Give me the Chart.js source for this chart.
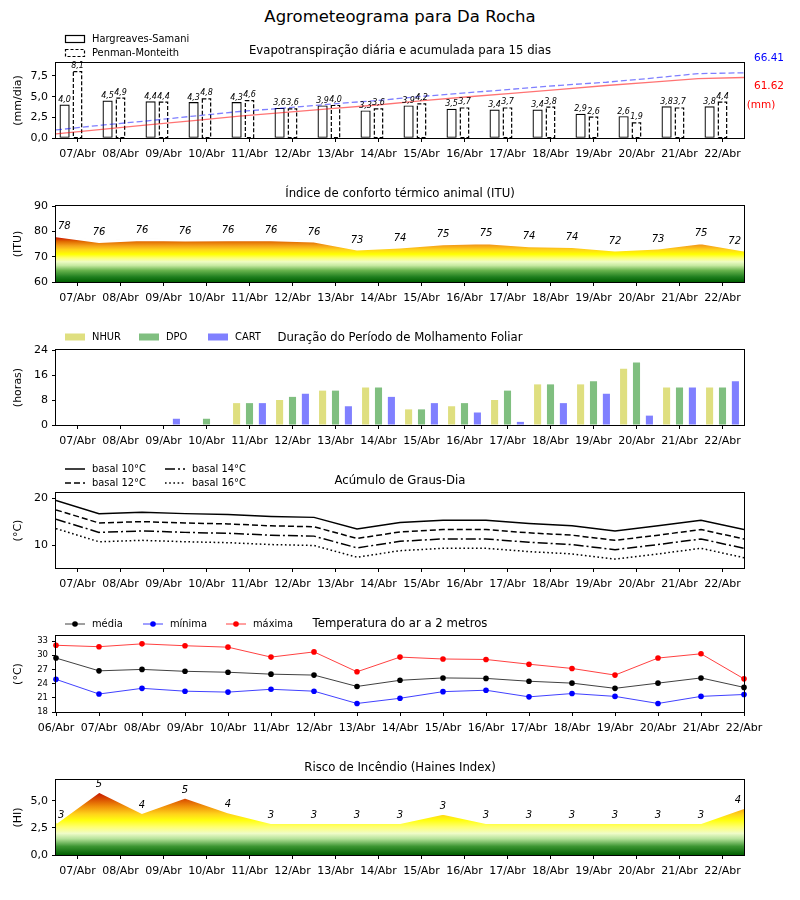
<!DOCTYPE html>
<html lang="pt">
<head>
<meta charset="utf-8">
<title>Agrometeograma</title>
<script src="https://cdn.jsdelivr.net/npm/chart.js@4.4.1/dist/chart.umd.min.js"></script>
<style>
  body { margin: 0; background: #fff; }
  #fig { position: relative; width: 800px; height: 900px; font-family: "DejaVu Sans", sans-serif; }
  #fig canvas { position: absolute; left: 0; }
  #titulo { position: absolute; left: 0; top: 8px; width: 800px; text-align: center; font-size: 16.5px; line-height: 18px; }
</style>
</head>
<body>
<div id="fig">
  <div id="titulo">Agrometeograma para Da Rocha</div>
  <canvas id="cEvapo"></canvas>
  <canvas id="cItu"></canvas>
  <canvas id="cMolh"></canvas>
  <canvas id="cGraus"></canvas>
  <canvas id="cTemp"></canvas>
  <canvas id="cHaines"></canvas>
</div>
<script>
'use strict';

// ---- dados ----
var dias = ['07/Abr', '08/Abr', '09/Abr', '10/Abr', '11/Abr', '12/Abr', '13/Abr', '14/Abr',
            '15/Abr', '16/Abr', '17/Abr', '18/Abr', '19/Abr', '20/Abr', '21/Abr', '22/Abr'];
var diasTemp = ['06/Abr'].concat(dias);

// evapotranspiracao (mm/dia) e acumulado (mm)
var etHargreaves = [4.0, 4.5, 4.4, 4.3, 4.3, 3.6, 3.9, 3.3, 3.9, 3.5, 3.4, 3.4, 2.9, 2.6, 3.8, 3.8];
var etPenman     = [8.1, 4.9, 4.4, 4.8, 4.6, 3.6, 4.0, 3.6, 4.2, 3.7, 3.7, 3.8, 2.6, 1.9, 3.7, 4.4];
var acumHargreaves = [4.1, 8.8, 13.3, 17.8, 22.2, 26.0, 30.0, 33.6, 38.0, 42.0, 45.8, 49.5, 53.5, 57.0, 60.5, 61.62];
var acumPenman     = [8.2, 13.1, 17.5, 22.3, 27.0, 30.6, 34.6, 38.2, 42.5, 46.2, 49.9, 53.7, 56.8, 61.0, 65.6, 66.41];
var totalHargreaves = '61.62';
var totalPenman = '66.41';
var etTicks = [0, 2.5, 5, 7.5];

// ITU
var itu        = [78.3, 76.0, 76.8, 76.6, 76.7, 76.7, 76.2, 73.0, 73.8, 75.1, 75.5, 74.3, 74.0, 72.6, 73.4, 75.5, 72.6];
var ituRotulos = [78, 76, 76, 76, 76, 76, 76, 73, 74, 75, 75, 74, 74, 72, 73, 75, 72];
var ituTicks = [60, 70, 80, 90];

// molhamento foliar (horas)
var molhNhur = [0, 0, 0, 0, 7, 8, 11, 12, 5, 6, 8, 13, 13, 18, 12, 12];
var molhDpo  = [0, 0, 0, 2, 7, 9, 11, 12, 5, 7, 11, 13, 14, 20, 12, 12];
var molhCart = [0, 0, 2, 0, 7, 10, 6, 9, 7, 4, 1, 7, 10, 3, 12, 14];
var molhTicks = [0, 8, 16, 24];

// graus-dia
var gdBasal10 = [19.5, 16.7, 17.0, 16.7, 16.5, 16.1, 15.9, 13.4, 14.8, 15.3, 15.3, 14.6, 14.1, 13.0, 14.1, 15.3, 13.3];
var gdBasal12 = [17.5, 14.7, 15.0, 14.7, 14.5, 14.1, 13.9, 11.4, 12.8, 13.3, 13.3, 12.6, 12.1, 11.0, 12.1, 13.3, 11.3];
var gdBasal14 = [15.5, 12.7, 13.0, 12.7, 12.5, 12.1, 11.9, 9.4, 10.8, 11.3, 11.3, 10.6, 10.1, 9.0, 10.1, 11.3, 9.3];
var gdBasal16 = [13.5, 10.7, 11.0, 10.7, 10.5, 10.1, 9.9, 7.4, 8.8, 9.3, 9.3, 8.6, 8.1, 7.0, 8.1, 9.3, 7.3];
var gdTicks = [10, 20];

// temperatura do ar (C)
var tMedia  = [29.4, 26.7, 27.0, 26.6, 26.4, 26.0, 25.8, 23.4, 24.7, 25.2, 25.1, 24.5, 24.1, 23.0, 24.1, 25.2, 23.2];
var tMinima = [24.9, 21.8, 23.0, 22.4, 22.2, 22.8, 22.4, 19.8, 20.9, 22.3, 22.6, 21.2, 21.9, 21.3, 19.8, 21.3, 21.7];
var tMaxima = [32.1, 31.8, 32.4, 32.0, 31.7, 29.6, 30.7, 26.5, 29.6, 29.2, 29.1, 28.1, 27.2, 25.8, 29.4, 30.3, 25.0];
var tempTicks = [18, 21, 24, 27, 30, 33];

// indice de Haines
var haines        = [3.0, 5.9, 3.95, 5.35, 4.0, 3.0, 3.0, 3.0, 3.0, 3.85, 3.0, 3.0, 3.0, 3.0, 3.0, 3.0, 4.4];
var hainesRotulos = [3, 5, 4, 5, 4, 3, 3, 3, 3, 3, 3, 3, 3, 3, 3, 3, 4];
var hainesTicks = [0, 2.5, 5];

// ---- estilos ----
var coresItu = [
  [60, '#005f00'], [62, '#1f7f1f'], [64.5, '#66b24c'], [66.5, '#c6e9a0'], [68, '#eefcc4'],
  [69.5, '#ffff70'], [71, '#ffff00'], [72.8, '#ffd21a'], [74.3, '#f5a31a'], [76, '#e06a00'],
  [77.5, '#cf1a00'], [79, '#c00000']
];
var coresHaines = [
  [0, '#005f00'], [0.8, '#3d9633'], [1.5, '#b5e29a'], [2.0, '#effcc8'], [2.6, '#ffff70'],
  [3.2, '#ffff10'], [3.8, '#ffd21a'], [4.5, '#f0900a'], [5.2, '#d84a00'], [6.0, '#c00000']
];

Chart.defaults.font.family = '"DejaVu Sans", sans-serif';
Chart.defaults.color = '#000';
Chart.defaults.animation = false;
Chart.defaults.plugins.legend.display = false;
Chart.defaults.plugins.tooltip.enabled = false;
Chart.defaults.plugins.colors.enabled = false;

var LARG_EIXO_Y = 56;
var ALT_EIXO_X = 28;

function montaCanvas(id, topo, altura) {
  var el = document.getElementById(id);
  el.width = 800;
  el.height = altura;
  el.style.top = topo + 'px';
  return el;
}

// padding para que a area do grafico fique em [areaTopo, areaBase] na pagina
function padPainel(topo, altura, areaTopo, areaBase) {
  return { left: 0, right: 56, top: areaTopo - topo, bottom: topo + altura - areaBase - ALT_EIXO_X };
}

function virgula(v) {
  return v.toFixed(1).replace('.', ',');
}

function meiaNoite(arr) {
  return arr.map(function(v, i) { return { x: i - 0.5, y: v }; });
}
function noDia(arr, desloc) {
  return arr.map(function(v, i) { return { x: i + (desloc || 0), y: v }; });
}

function eixoDias(rotulos, min, max) {
  return {
    type: 'linear',
    min: min,
    max: max,
    offset: false,
    grid: { drawOnChartArea: false, offset: false, tickLength: 4, color: '#000' },
    border: { display: false },
    afterBuildTicks: function(s) {
      s.ticks = rotulos.map(function(r, i) { return { value: i }; });
    },
    ticks: {
      callback: function(v) { return rotulos[v]; },
      font: { size: 11 },
      padding: 6,
      maxRotation: 0,
      autoSkip: false
    },
    afterFit: function(s) { s.height = ALT_EIXO_X; s.paddingLeft = 0; s.paddingRight = 0; }
  };
}

function eixoY(titulo, ticks, min, max, formato, tamFonte) {
  return {
    type: 'linear',
    position: 'left',
    min: min,
    max: max,
    grid: { drawOnChartArea: false, tickLength: 4, color: '#000' },
    border: { display: false },
    afterBuildTicks: function(s) {
      s.ticks = ticks.map(function(v) { return { value: v }; });
    },
    ticks: {
      callback: formato || function(v) { return v; },
      font: { size: tamFonte || 11 },
      padding: 4
    },
    title: { display: true, text: titulo, font: { size: 11 }, padding: { top: 12, bottom: 0 } },
    afterFit: function(s) { s.width = LARG_EIXO_Y; s.paddingTop = 0; s.paddingBottom = 0; }
  };
}

function gradiente(chart, cores) {
  var area = chart.chartArea, esc = chart.scales.y;
  if (!area) return 'rgba(0,0,0,0)';
  var v0 = cores[0][0], v1 = cores[cores.length - 1][0];
  var g = chart.ctx.createLinearGradient(0, esc.getPixelForValue(v0), 0, esc.getPixelForValue(v1));
  cores.forEach(function(c) { g.addColorStop((c[0] - v0) / (v1 - v0), c[1]); });
  return g;
}

function amostra(ctx, ds, item, x, y) {
  ctx.save();
  if (item.tipo === 'rect') {
    ctx.fillStyle = ds.backgroundColor;
    ctx.fillRect(x, y - 3.5, 20, 7);
    if (item.borda) {
      ctx.strokeStyle = '#000';
      ctx.lineWidth = 1.2;
      ctx.setLineDash(item.borda);
      ctx.strokeRect(x + 0.5, y - 3.5, 19, 7);
    }
  } else {
    ctx.strokeStyle = ds.borderColor;
    ctx.lineWidth = ds.borderWidth;
    ctx.setLineDash(ds.borderDash || []);
    ctx.beginPath();
    ctx.moveTo(x, y);
    ctx.lineTo(x + 20, y);
    ctx.stroke();
    if (item.tipo === 'ponto') {
      ctx.setLineDash([]);
      ctx.fillStyle = ds.pointBackgroundColor;
      ctx.beginPath();
      ctx.arc(x + 10, y, 2.8, 0, Math.PI * 2);
      ctx.fill();
    }
  }
  ctx.restore();
}

// moldura, subtitulo, legenda, rotulos de valores e bordas tracejadas
var decor = {
  id: 'decor',
  afterDatasetDraw: function(chart, args) {
    var ds = chart.data.datasets[args.index];
    if (!ds.bordaTracejada) return;
    var ctx = chart.ctx;
    ctx.save();
    ctx.strokeStyle = '#000';
    ctx.lineWidth = 1.2;
    ctx.setLineDash(ds.bordaTracejada);
    args.meta.data.forEach(function(bar) {
      var p = bar.getProps(['x', 'y', 'base', 'width'], true);
      ctx.strokeRect(p.x - p.width / 2 + 0.6, p.y + 0.6, p.width - 1.2, p.base - p.y - 0.6);
    });
    ctx.restore();
  },
  afterDraw: function(chart, args, o) {
    var ctx = chart.ctx, a = chart.chartArea;
    ctx.save();
    ctx.strokeStyle = '#000';
    ctx.lineWidth = 1;
    ctx.strokeRect(Math.round(a.left) - 0.5, Math.round(a.top) - 0.5,
                   Math.round(a.right - a.left) + 1, Math.round(a.bottom - a.top) + 1);

    ctx.fillStyle = '#000';
    ctx.textBaseline = 'middle';
    ctx.textAlign = 'center';
    ctx.font = '11.7px "DejaVu Sans"';
    ctx.fillText(o.titulo, (a.left + a.right) / 2, a.top - 12);

    ctx.textAlign = 'left';
    ctx.font = '9.9px "DejaVu Sans"';
    (o.legenda || []).forEach(function(item) {
      var ds = chart.data.datasets[item.ds];
      var x = a.left + item.dx, y = a.top + item.dy;
      amostra(ctx, ds, item, x, y);
      ctx.fillStyle = '#000';
      ctx.fillText(ds.label, x + 27, y);
    });

    (o.rotulos || []).forEach(function(r) {
      var pts = chart.getDatasetMeta(r.ds).data;
      ctx.font = r.fonte;
      ctx.textBaseline = 'bottom';
      pts.forEach(function(pt, i) {
        var x = pt.x;
        ctx.textAlign = 'center';
        if (r.bordas && i === 0) { ctx.textAlign = 'left'; x += 2; }
        if (r.bordas && i === pts.length - 1) { ctx.textAlign = 'right'; x -= 3; }
        ctx.fillText(r.textos[i], x, pt.y - r.dy);
      });
    });

    ctx.textBaseline = 'middle';
    ctx.textAlign = 'center';
    (o.extras || []).forEach(function(t) {
      ctx.font = '10.5px "DejaVu Sans"';
      ctx.fillStyle = t.cor;
      ctx.fillText(t.texto, a.right + t.dx, a.top + t.dy);
    });
    ctx.restore();
  }
};

// ---- 1: evapotranspiracao ----
new Chart(montaCanvas('cEvapo', 25, 150), {
  type: 'bar',
  data: {
    datasets: [
      {
        label: 'Hargreaves-Samani',
        data: noDia(etHargreaves, -0.3),
        backgroundColor: '#fff',
        borderColor: '#000',
        borderWidth: 1.2,
        borderSkipped: false,
        barThickness: 9.5,
        grouped: false,
        order: 2
      },
      {
        label: 'Penman-Monteith',
        data: noDia(etPenman),
        backgroundColor: '#fff',
        borderWidth: 0,
        barThickness: 9.5,
        grouped: false,
        order: 2,
        bordaTracejada: [4, 2]
      },
      {
        type: 'line',
        label: 'acumulado HS',
        data: noDia(acumHargreaves),
        xAxisID: 'x2',
        yAxisID: 'y2',
        borderColor: 'rgba(255,0,0,0.55)',
        borderWidth: 1.3,
        pointRadius: 0,
        order: 1
      },
      {
        type: 'line',
        label: 'acumulado PM',
        data: noDia(acumPenman),
        xAxisID: 'x2',
        yAxisID: 'y2',
        borderColor: 'rgba(0,0,255,0.5)',
        borderWidth: 1.3,
        borderDash: [6, 3],
        pointRadius: 0,
        order: 1
      }
    ]
  },
  options: {
    responsive: false,
    layout: { padding: padPainel(25, 150, 63, 138) },
    scales: {
      x: eixoDias(dias, -0.5, 15.5),
      y: eixoY('(mm/dia)', etTicks, 0, 9.07, virgula),
      x2: { type: 'linear', display: false, offset: false, min: 0, max: 15 },
      y2: { type: 'linear', display: false, min: 0, max: 76.4 }
    },
    plugins: {
      decor: {
        titulo: 'Evapotranspiração diária e acumulada para 15 dias',
        legenda: [
          { ds: 0, tipo: 'rect', borda: [], dx: 9, dy: -24 },
          { ds: 1, tipo: 'rect', borda: [3, 2], dx: 9, dy: -10 }
        ],
        rotulos: [
          { ds: 0, textos: etHargreaves.map(virgula), fonte: 'italic 8px "DejaVu Sans"', dy: 1 },
          { ds: 1, textos: etPenman.map(virgula), fonte: 'italic 8px "DejaVu Sans"', dy: 1 }
        ],
        extras: [
          { texto: totalPenman, cor: '#0000ff', dx: 25, dy: -5 },
          { texto: totalHargreaves, cor: '#ff0000', dx: 25, dy: 23 },
          { texto: '(mm)', cor: '#ff0000', dx: 17, dy: 42 }
        ]
      }
    }
  },
  plugins: [decor]
});

// ---- 2: ITU ----
new Chart(montaCanvas('cItu', 180, 130), {
  type: 'line',
  data: {
    datasets: [
      {
        label: 'ITU',
        data: meiaNoite(itu),
        fill: 'start',
        backgroundColor: function(c) { return gradiente(c.chart, coresItu); },
        borderColor: '#fff',
        borderWidth: 3,
        pointRadius: 0
      },
      {
        label: 'ITU linha',
        data: meiaNoite(itu),
        fill: false,
        borderColor: '#707070',
        borderWidth: 1.2,
        pointRadius: 0
      }
    ]
  },
  options: {
    responsive: false,
    layout: { padding: padPainel(180, 130, 206, 282) },
    scales: {
      x: eixoDias(dias, -0.5, 15.5),
      y: eixoY('(ITU)', ituTicks, 60, 90)
    },
    plugins: {
      decor: {
        titulo: 'Índice de conforto térmico animal (ITU)',
        rotulos: [{ ds: 1, textos: ituRotulos, fonte: 'italic 10px "DejaVu Sans"', dy: 4, bordas: true }]
      }
    }
  },
  plugins: [decor]
});

// ---- 3: molhamento foliar ----
new Chart(montaCanvas('cMolh', 320, 135), {
  type: 'bar',
  data: {
    datasets: [
      { label: 'NHUR', data: noDia(molhNhur), backgroundColor: '#dfdf80' },
      { label: 'DPO', data: noDia(molhDpo), backgroundColor: '#80bf80' },
      { label: 'CART', data: noDia(molhCart), backgroundColor: '#8080ff' }
    ]
  },
  options: {
    responsive: false,
    layout: { padding: padPainel(320, 135, 350, 425) },
    datasets: { bar: { categoryPercentage: 0.9, barPercentage: 0.55, borderWidth: 0 } },
    scales: {
      x: eixoDias(dias, -0.5, 15.5),
      y: eixoY('(horas)', molhTicks, 0, 24)
    },
    plugins: {
      decor: {
        titulo: 'Duração do Período de Molhamento Foliar',
        legenda: [
          { ds: 0, tipo: 'rect', dx: 9, dy: -13 },
          { ds: 1, tipo: 'rect', dx: 83, dy: -13 },
          { ds: 2, tipo: 'rect', dx: 152, dy: -13 }
        ]
      }
    }
  },
  plugins: [decor]
});

// ---- 4: graus-dia ----
new Chart(montaCanvas('cGraus', 455, 145), {
  type: 'line',
  data: {
    datasets: [
      { label: 'basal 10°C', data: meiaNoite(gdBasal10), borderColor: '#000', borderWidth: 1.5, borderDash: [] },
      { label: 'basal 12°C', data: meiaNoite(gdBasal12), borderColor: '#000', borderWidth: 1.5, borderDash: [6, 3] },
      { label: 'basal 14°C', data: meiaNoite(gdBasal14), borderColor: '#000', borderWidth: 1.5, borderDash: [10, 3, 2, 3] },
      { label: 'basal 16°C', data: meiaNoite(gdBasal16), borderColor: '#000', borderWidth: 1.5, borderDash: [1.6, 2.6] }
    ]
  },
  options: {
    responsive: false,
    layout: { padding: padPainel(455, 145, 493, 568) },
    datasets: { line: { pointRadius: 0, fill: false } },
    scales: {
      x: eixoDias(dias, -0.5, 15.5),
      y: eixoY('(°C)', gdTicks, 5.1, 21.1)
    },
    plugins: {
      decor: {
        titulo: 'Acúmulo de Graus-Dia',
        legenda: [
          { ds: 0, tipo: 'linha', dx: 9, dy: -24 },
          { ds: 1, tipo: 'linha', dx: 9, dy: -10 },
          { ds: 2, tipo: 'linha', dx: 109, dy: -24 },
          { ds: 3, tipo: 'linha', dx: 109, dy: -10 }
        ]
      }
    }
  },
  plugins: [decor]
});

// ---- 5: temperatura ----
new Chart(montaCanvas('cTemp', 605, 140), {
  type: 'line',
  data: {
    datasets: [
      { label: 'média', data: noDia(tMedia), borderColor: 'rgba(0,0,0,0.75)', pointBackgroundColor: '#000' },
      { label: 'mínima', data: noDia(tMinima), borderColor: 'rgba(0,0,255,0.75)', pointBackgroundColor: '#0000ff' },
      { label: 'máxima', data: noDia(tMaxima), borderColor: 'rgba(255,0,0,0.75)', pointBackgroundColor: '#ff0000' }
    ]
  },
  options: {
    responsive: false,
    layout: { padding: padPainel(605, 140, 636, 712) },
    datasets: { line: { borderWidth: 1, pointRadius: 2.8, pointBorderWidth: 0, fill: false, clip: false } },
    scales: {
      x: eixoDias(diasTemp, 0, 16),
      y: eixoY('(°C)', tempTicks, 18, 34.06, null, 8.5)
    },
    plugins: {
      decor: {
        titulo: 'Temperatura do ar a 2 metros',
        legenda: [
          { ds: 0, tipo: 'ponto', dx: 9, dy: -12 },
          { ds: 1, tipo: 'ponto', dx: 87, dy: -12 },
          { ds: 2, tipo: 'ponto', dx: 170, dy: -12 }
        ]
      }
    }
  },
  plugins: [decor]
});

// ---- 6: Haines ----
new Chart(montaCanvas('cHaines', 750, 140), {
  type: 'line',
  data: {
    datasets: [
      {
        label: 'Haines',
        data: meiaNoite(haines),
        fill: 'start',
        backgroundColor: function(c) { return gradiente(c.chart, coresHaines); },
        borderColor: '#fff',
        borderWidth: 3,
        pointRadius: 0
      },
      {
        label: 'Haines linha',
        data: meiaNoite(haines),
        fill: false,
        borderColor: '#707070',
        borderWidth: 1.2,
        pointRadius: 0
      }
    ]
  },
  options: {
    responsive: false,
    layout: { padding: padPainel(750, 140, 780, 855) },
    scales: {
      x: eixoDias(dias, -0.5, 15.5),
      y: eixoY('(HI)', hainesTicks, 0, 6.94, virgula)
    },
    plugins: {
      decor: {
        titulo: 'Risco de Incêndio (Haines Index)',
        rotulos: [{ ds: 1, textos: hainesRotulos, fonte: 'italic 10px "DejaVu Sans"', dy: 2, bordas: true }]
      }
    }
  },
  plugins: [decor]
});
</script>
</body>
</html>
